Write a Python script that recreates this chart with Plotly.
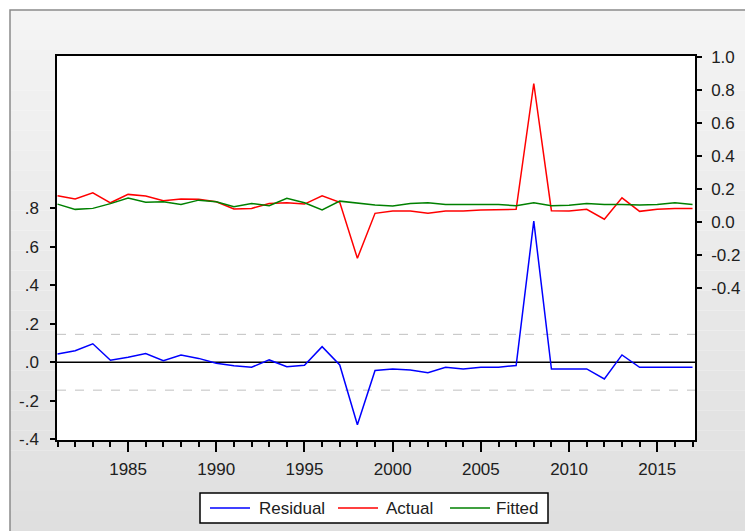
import plotly.graph_objects as go

years = list(range(1981, 2018))
residual = [0.043, 0.060, 0.096, 0.010, 0.026, 0.045, 0.008, 0.038, 0.020, -0.005,
            -0.018, -0.026, 0.012, -0.023, -0.016, 0.081, -0.014, -0.325, -0.043, -0.035,
            -0.040, -0.054, -0.026, -0.035, -0.026, -0.026, -0.017, 0.733, -0.035, -0.035,
            -0.035, -0.087, 0.038, -0.026, -0.026, -0.026, -0.026]
actual = [0.158, 0.138, 0.176, 0.115, 0.166, 0.156, 0.127, 0.138, 0.136, 0.121,
          0.077, 0.081, 0.111, 0.115, 0.107, 0.158, 0.118, -0.222, 0.051, 0.065,
          0.065, 0.051, 0.065, 0.065, 0.071, 0.075, 0.075, 0.839, 0.067, 0.065,
          0.075, 0.015, 0.145, 0.063, 0.075, 0.081, 0.081]
fitted = [0.107, 0.075, 0.081, 0.110, 0.144, 0.118, 0.121, 0.105, 0.131, 0.121,
          0.091, 0.111, 0.097, 0.142, 0.115, 0.071, 0.125, 0.111, 0.101, 0.095,
          0.111, 0.115, 0.105, 0.105, 0.105, 0.105, 0.097, 0.115, 0.097, 0.100,
          0.111, 0.105, 0.105, 0.101, 0.105, 0.115, 0.105]
se_band = 0.145

series_names = ["Residual", "Actual", "Fitted"]
series_colors = ["#0000ff", "#ff0000", "#008000"]

left_vals = [-0.4, -0.2, 0.0, 0.2, 0.4, 0.6, 0.8]
left_text = ["-.4", "-.2", ".0", ".2", ".4", ".6", ".8"]
right_vals = [-0.4, -0.2, 0.0, 0.2, 0.4, 0.6, 0.8, 1.0]
right_text = ["-0.4", "-0.2", "0.0", "0.2", "0.4", "0.6", "0.8", "1.0"]
x_ticks = [1985, 1990, 1995, 2000, 2005, 2010, 2015]

W, H = 745, 531
L, R, T, B = 57, 695, 56, 440


def px(p):
    return (p - L) / (R - L)


def py(p):
    return (B - p) / (B - T)


FONT = "Liberation Sans, Arial, sans-serif"
FS = 17
TXT = "#202020"

fig = go.Figure()
fig.add_trace(go.Scatter(x=years, y=residual, name=series_names[0], mode="lines",
                         line=dict(color=series_colors[0], width=1.5), yaxis="y"))
fig.add_trace(go.Scatter(x=years, y=actual, name=series_names[1], mode="lines",
                         line=dict(color=series_colors[1], width=1.5), yaxis="y2"))
fig.add_trace(go.Scatter(x=years, y=fitted, name=series_names[2], mode="lines",
                         line=dict(color=series_colors[2], width=1.5), yaxis="y2"))

shapes = []
annotations = []
# gradient background outside plot area
n = 26
top, bot = 10, 531
for i in range(n):
    y0 = top + (bot - top) * i / n
    y1 = top + (bot - top) * (i + 1) / n
    c = int(round(244 - (244 - 223) * (i + 0.5) / n))
    col = f"rgb({c},{c},{c})"
    pieces = []
    if y1 <= T or y0 >= B:
        pieces.append((10, W + 5, y0, y1))
    else:
        if y0 < T:
            pieces.append((10, W + 5, y0, T))
        if y1 > B:
            pieces.append((10, W + 5, B, y1))
        a, b = max(y0, T), min(y1, B)
        pieces.append((10, L, a, b))
        pieces.append((R, W + 5, a, b))
    for (xa, xb, ya, yb) in pieces:
        shapes.append(dict(type="rect", xref="paper", yref="paper",
                           x0=px(xa), x1=px(xb), y0=py(yb), y1=py(ya),
                           fillcolor=col, line=dict(width=0), layer="below"))
# outer border
shapes.append(dict(type="rect", xref="paper", yref="paper",
                   x0=px(10), x1=px(W + 20), y0=py(H + 20), y1=py(10),
                   line=dict(color="#8a8a8a", width=1.5), fillcolor="rgba(0,0,0,0)", layer="below"))
# zero line and +/- S.E. bands
shapes.append(dict(type="line", xref="paper", yref="y", x0=0, x1=1, y0=0, y1=0,
                   line=dict(color="black", width=1.5), layer="below"))
for v in (se_band, -se_band):
    shapes.append(dict(type="line", xref="paper", yref="y", x0=0, x1=1, y0=v, y1=v,
                       line=dict(color="#c0c0c0", width=1, dash="dash"), layer="below"))

# legend box (drawn manually for exact placement)
shapes.append(dict(type="rect", xref="paper", yref="paper",
                   x0=px(200), x1=px(548), y0=py(523), y1=py(493),
                   fillcolor="white", line=dict(color="black", width=1.5), layer="above"))
leg_line_x = [210, 338, 450]
leg_text_x = [257, 384, 494]
for name, color, lx, tx in zip(series_names, series_colors, leg_line_x, leg_text_x):
    shapes.append(dict(type="line", xref="paper", yref="paper",
                       x0=px(lx), x1=px(lx + 40), y0=py(508), y1=py(508),
                       line=dict(color=color, width=1.5), layer="above"))
    annotations.append(dict(text=name, xref="paper", yref="paper", x=px(tx), y=py(508.5),
                            xanchor="left", yanchor="middle", showarrow=False,
                            font=dict(family=FONT, size=FS, color=TXT)))

fig.update_layout(
    width=W, height=H,
    margin=dict(l=L, r=W - R, t=T, b=H - B, autoexpand=False),
    paper_bgcolor="white", plot_bgcolor="white",
    font=dict(family=FONT, size=FS, color=TXT),
    shapes=shapes,
    annotations=annotations,
    showlegend=False,
    xaxis=dict(range=[1980.97, 2017.14], tickvals=x_ticks, ticks="outside", ticklen=10,
               tickwidth=1.5, tickcolor="black", showgrid=False, zeroline=False,
               showline=True, linecolor="black", linewidth=1.5, mirror=True,
               automargin=False,
               minor=dict(dtick=1, tick0=1981, ticks="outside", ticklen=5, tickwidth=1.5,
                          tickcolor="black", showgrid=False),
               tickfont=dict(size=FS), ticklabelstandoff=3),
    yaxis=dict(range=[-0.404, 1.591], tickvals=left_vals, ticktext=left_text,
               ticks="outside", ticklen=5, tickwidth=1.5, tickcolor="black",
               showgrid=False, zeroline=False, showline=True, linecolor="black",
               linewidth=1.5, tickfont=dict(size=FS), ticklabelstandoff=8,
               automargin=False),
    yaxis2=dict(range=[-1.325, 1.006], tickvals=right_vals, ticktext=right_text,
                overlaying="y", side="right", ticks="outside", ticklen=5, tickwidth=1.5,
                tickcolor="black", showgrid=False, zeroline=False, showline=True,
                linecolor="black", linewidth=1.5, tickfont=dict(size=FS),
                ticklabelstandoff=6, automargin=False),
)

fig.write_html("out.html", config={"displayModeBar": False},
               post_script="document.body.style.margin='0';document.body.style.overflow='hidden';")
